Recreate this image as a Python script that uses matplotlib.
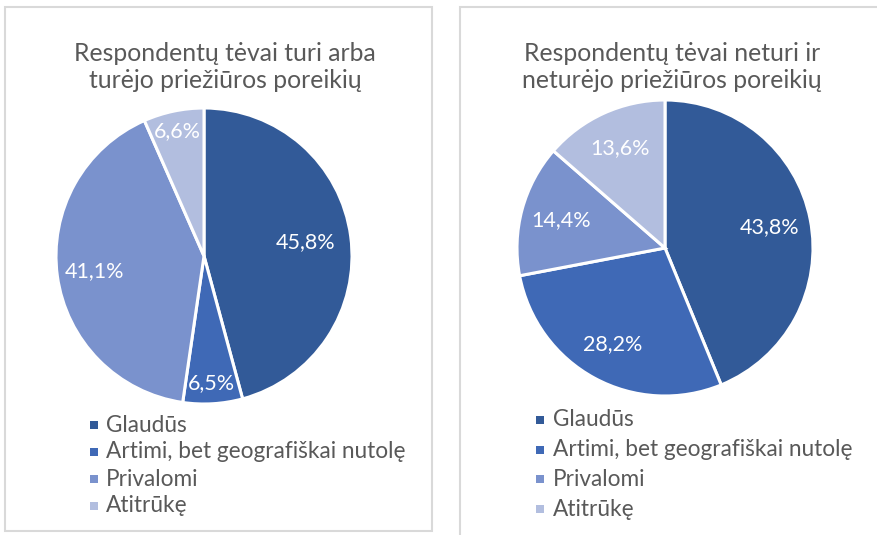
import numpy as np
import matplotlib
matplotlib.use('Agg')
import matplotlib.pyplot as plt
from matplotlib.patches import Rectangle

# ────────────────────────────────
# Duomenys

categories = ['Glaudūs', 'Artimi, bet geografiškai nutolę', 'Privalomi', 'Atitrūkę']
left_values = [45.8, 6.5, 41.1, 6.6]
right_values = [43.8, 28.2, 14.4, 13.6]
left_title = 'Respondentų tėvai turi arba\nturėjo priežiūros poreikių'
right_title = 'Respondentų tėvai neturi ir\nneturėjo priežiūros poreikių'

# ────────────────────────────────
# Grafikos parametrai

colors = ['#325A98', '#3F69B6', '#7A92CD', '#B2BEDF']
txt_gray = '#595959'
brd_gray = '#D9D9D9'
font = 'Lato'

W, H = 877, 535
plt.rcParams['font.family'] = [font, 'DejaVu Sans']

fig = plt.figure(figsize=(W / 100, H / 100), dpi=100, facecolor='white')


def px(x, y):
    # pikseliai (nuo viršaus) -> figūros koordinatės
    return x / W, 1 - y / H


def panel(x0, y0, x1, y1):
    fx0, fy1 = px(x0, y0)
    fx1, fy0 = px(x1, y1)
    fig.add_artist(Rectangle((fx0, fy0), fx1 - fx0, fy1 - fy0, transform=fig.transFigure,
                             fill=False, edgecolor=brd_gray, linewidth=1.5))


def draw_pie(cx, cy, r, values, lbl_r):
    fx0, fy0 = px(cx - r, cy + r)
    ax = fig.add_axes([fx0, fy0, 2 * r / W, 2 * r / H])
    wedges, _ = ax.pie(values, startangle=90, counterclock=False, colors=colors, radius=1,
                       wedgeprops=dict(edgecolor='white', linewidth=2.2))
    for w, v, f in zip(wedges, values, lbl_r):
        a = np.deg2rad((w.theta1 + w.theta2) / 2)
        ax.text(f * np.cos(a), f * np.sin(a), ('%.1f%%' % v).replace('.', ','),
                ha='center', va='center', color='white', fontsize=15.5)
    ax.set_xlim(-1.0, 1.0)
    ax.set_ylim(-1.0, 1.0)
    ax.set_aspect('equal')
    ax.axis('off')


def draw_legend(sq_x, txt_x, rows_y):
    for c, name, y in zip(colors, categories, rows_y):
        fx, fy = px(sq_x - 4, y + 4)
        fig.add_artist(Rectangle((fx, fy), 8 / W, 8 / H, transform=fig.transFigure,
                                 facecolor=c, edgecolor='none'))
        tx, ty = px(txt_x, y)
        fig.text(tx, ty, name, ha='left', va='center', color=txt_gray, fontsize=16.3)


# ────────────────────────────────
# Kairė dalis

panel(5, 7, 432, 531)
tx, ty = px(225, 67)
fig.text(tx, ty, left_title, ha='center', va='center', color=txt_gray, fontsize=17.8,
         linespacing=1.2)
draw_pie(204, 256, 148, left_values, [0.69, 0.86, 0.75, 0.86])
draw_legend(94, 106, [425, 452, 479, 506])

# ────────────────────────────────
# Dešinė dalis

panel(460, 7, 890, 545)
tx, ty = px(672, 67)
fig.text(tx, ty, right_title, ha='center', va='center', color=txt_gray, fontsize=17.8,
         linespacing=1.2)
draw_pie(665, 248, 148, right_values, [0.72, 0.74, 0.73, 0.74])
draw_legend(540, 553, [420, 450, 479, 509])

fig.savefig('out.png', dpi=100, facecolor='white')
